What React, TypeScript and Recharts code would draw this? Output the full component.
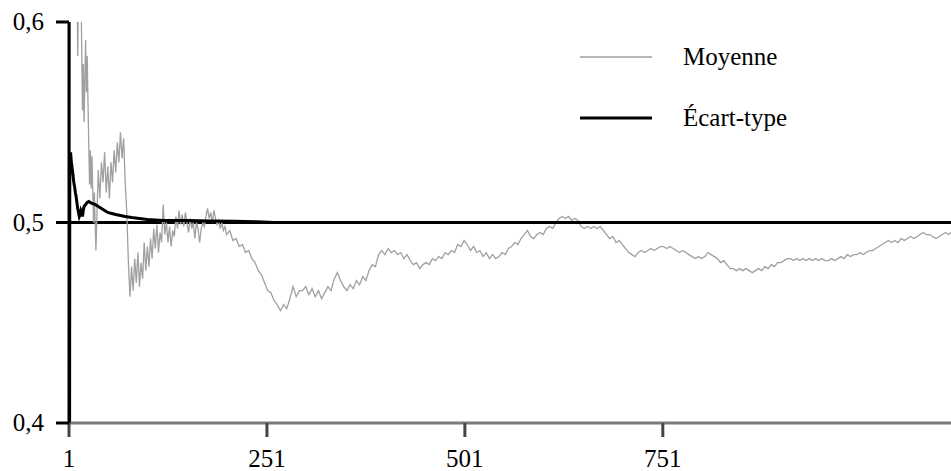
import React from "react";
import { LineChart, Line, XAxis, YAxis, ReferenceLine, Legend } from "recharts";

// Moyenne (gray running mean)
const moyenneX = [
  1, 2, 3, 4, 5, 6, 7, 8, 9, 10, 11, 12, 13, 14, 15, 16, 17, 18, 19, 20, 21, 22, 23, 24, 25, 26, 27, 28, 29, 30,
  31, 32, 33, 34, 35, 36, 38, 40, 42, 44, 46, 48, 50, 52, 54, 56, 58, 60, 62, 64, 66, 68, 70, 72, 74, 76, 78, 80,
  82, 84, 86, 88, 90, 92, 94, 96, 98, 100, 102, 104, 106, 108, 110, 112, 114, 116, 118, 120, 122, 124, 126, 128,
  130, 132, 134, 136, 138, 140, 142, 144, 146, 148, 150, 152, 154, 156, 158, 160, 162, 164, 166, 168, 170, 172,
  174, 176, 178, 180, 182, 184, 186, 188, 190, 192, 194, 196, 198, 200, 204, 208, 212, 216, 220, 224, 228, 232,
  236, 240, 244, 248, 252, 256, 260, 264, 268, 272, 276, 280, 284, 288, 292, 296, 300, 304, 308, 312, 316, 320,
  324, 328, 332, 336, 340, 344, 348, 352, 356, 360, 364, 368, 372, 376, 380, 384, 388, 392, 396, 400, 404, 408,
  412, 416, 420, 424, 428, 432, 436, 440, 444, 448, 452, 456, 460, 464, 468, 472, 476, 480, 484, 488, 492, 496,
  500, 504, 508, 512, 516, 520, 524, 528, 532, 536, 540, 544, 548, 552, 556, 560, 564, 568, 572, 576, 580, 584,
  588, 592, 596, 600, 604, 608, 612, 616, 620, 624, 628, 632, 636, 640, 644, 648, 652, 656, 660, 664, 668, 672,
  676, 680, 684, 688, 692, 696, 700, 704, 708, 712, 716, 720, 724, 728, 732, 736, 740, 744, 748, 752, 756, 760,
  764, 768, 772, 776, 780, 784, 788, 792, 796, 800, 804, 808, 812, 816, 820, 824, 828, 832, 836, 840, 844, 848,
  852, 856, 860, 864, 868, 872, 876, 880, 884, 888, 892, 896, 900, 904, 908, 912, 916, 920, 924, 928, 932, 936,
  940, 944, 948, 952, 956, 960, 964, 968, 972, 976, 980, 984, 988, 992, 996, 1000, 1004, 1008, 1012, 1016, 1020,
  1024, 1028, 1032, 1036, 1040, 1044, 1048, 1052, 1056, 1060, 1064, 1068, 1072, 1076, 1080, 1084, 1088, 1092,
  1096, 1100, 1104, 1108, 1112, 1115,
];
const moyenneY = [
  1.0, 0.5, 0.667, 0.75, 0.6, 0.667, 0.714, 0.625, 0.667, 0.6, 0.636, 0.583, 0.615, 0.643, 0.6, 0.625, 0.588,
  0.556, 0.579, 0.55, 0.571, 0.591, 0.565, 0.583, 0.56, 0.538, 0.519, 0.536, 0.517, 0.533, 0.516, 0.5, 0.515, 0.5,
  0.486, 0.5, 0.526, 0.512, 0.53, 0.52, 0.535, 0.515, 0.528, 0.512, 0.53, 0.52, 0.536, 0.525, 0.54, 0.53, 0.545,
  0.532, 0.542, 0.52, 0.505, 0.48, 0.463, 0.478, 0.466, 0.482, 0.47, 0.485, 0.468, 0.48, 0.472, 0.49, 0.476,
  0.488, 0.478, 0.492, 0.482, 0.497, 0.487, 0.499, 0.485, 0.495, 0.49, 0.509, 0.494, 0.5, 0.49, 0.498, 0.488,
  0.496, 0.493, 0.503, 0.497, 0.506, 0.499, 0.504, 0.498, 0.505, 0.5, 0.495, 0.502, 0.497, 0.5, 0.492, 0.5, 0.497,
  0.49, 0.497, 0.5, 0.498, 0.503, 0.507, 0.502, 0.505, 0.5, 0.506, 0.502, 0.499, 0.501, 0.497, 0.5, 0.496, 0.498,
  0.494, 0.496, 0.491, 0.492, 0.488, 0.489, 0.485, 0.486, 0.482, 0.48, 0.476, 0.474, 0.47, 0.466, 0.465, 0.461,
  0.459, 0.456, 0.459, 0.457, 0.462, 0.468, 0.463, 0.466, 0.466, 0.468, 0.464, 0.467, 0.463, 0.466, 0.462, 0.465,
  0.468, 0.466, 0.472, 0.475, 0.471, 0.468, 0.466, 0.469, 0.467, 0.471, 0.469, 0.473, 0.471, 0.476, 0.479, 0.478,
  0.484, 0.486, 0.484, 0.487, 0.485, 0.486, 0.484, 0.485, 0.482, 0.484, 0.481, 0.479, 0.48, 0.477, 0.479, 0.48,
  0.479, 0.482, 0.481, 0.483, 0.482, 0.485, 0.484, 0.486, 0.485, 0.489, 0.488, 0.491, 0.489, 0.486, 0.488, 0.485,
  0.486, 0.483, 0.485, 0.482, 0.484, 0.482, 0.483, 0.485, 0.484, 0.487, 0.488, 0.49, 0.489, 0.492, 0.494, 0.496,
  0.493, 0.492, 0.494, 0.495, 0.494, 0.497, 0.498, 0.497, 0.5, 0.502, 0.503, 0.502, 0.503, 0.501, 0.502, 0.501,
  0.498, 0.497, 0.498, 0.497, 0.498, 0.497, 0.498, 0.496, 0.494, 0.492, 0.493, 0.49, 0.491, 0.489, 0.487, 0.485,
  0.484, 0.483, 0.485, 0.486, 0.485, 0.486, 0.487, 0.486, 0.487, 0.488, 0.488, 0.487, 0.488, 0.487, 0.486, 0.485,
  0.486, 0.485, 0.484, 0.483, 0.482, 0.483, 0.482, 0.483, 0.485, 0.484, 0.483, 0.482, 0.48, 0.481, 0.479, 0.477,
  0.477, 0.476, 0.477, 0.476, 0.477, 0.476, 0.475, 0.476, 0.477, 0.476, 0.478, 0.477, 0.479, 0.478, 0.48, 0.48,
  0.481, 0.482, 0.482, 0.481, 0.482, 0.481, 0.482, 0.481, 0.482, 0.481, 0.482, 0.481, 0.482, 0.481, 0.481, 0.482,
  0.481, 0.482, 0.483, 0.482, 0.484, 0.483, 0.484, 0.484, 0.485, 0.484, 0.485, 0.486, 0.486, 0.487, 0.488, 0.489,
  0.49, 0.491, 0.49, 0.491, 0.49, 0.492, 0.491, 0.492, 0.493, 0.492, 0.493, 0.494, 0.495, 0.494, 0.494, 0.493,
  0.492, 0.493, 0.494, 0.495, 0.494, 0.495,
];

// Écart-type (black)
const ecartX = [
  1, 2, 3, 4, 5, 6, 7, 8, 9, 10, 11, 12, 13, 14, 15, 16, 17, 18, 19, 20, 22, 24, 26, 28, 30, 34, 38, 42, 46, 50,
  55, 60, 66, 72, 80, 90, 100, 120, 150, 180, 210, 238, 260, 1115,
];
const ecartY = [
  0.0, 0.53, 0.535, 0.53, 0.527, 0.524, 0.52, 0.518, 0.515, 0.513, 0.51, 0.507, 0.505, 0.503, 0.504, 0.506, 0.505,
  0.503, 0.506, 0.508, 0.509, 0.51, 0.5105, 0.51, 0.5095, 0.509, 0.508, 0.507, 0.506, 0.505, 0.5045, 0.504,
  0.5035, 0.503, 0.5025, 0.502, 0.5015, 0.501, 0.501, 0.5008, 0.5006, 0.5004, 0.5, 0.5,
];

const xTicks = [1, 251, 501, 751];
const yTicks = [0.4, 0.5, 0.6];
const seriesNames = ["Moyenne", "Écart-type"];

type Row = { x: number; moyenne?: number; ecart?: number };
const rowMap = new Map<number, Row>();
moyenneX.forEach((x, i) => {
  const r = rowMap.get(x) || { x };
  r.moyenne = moyenneY[i];
  rowMap.set(x, r);
});
ecartX.forEach((x, i) => {
  const r = rowMap.get(x) || { x };
  r.ecart = ecartY[i];
  rowMap.set(x, r);
});
const data: Row[] = Array.from(rowMap.values()).sort((a, b) => a.x - b.x);

const XTick = (props: any) => {
  const { x, payload } = props;
  return (
    <text x={x} y={467} textAnchor="middle" fontFamily="Liberation Serif" fontSize={25} fill="#000">
      {payload.value}
    </text>
  );
};

const YTick = (props: any) => {
  const { y, payload } = props;
  return (
    <text x={44} y={y + 8} textAnchor="end" fontFamily="Liberation Serif" fontSize={25} fill="#000">
      {String(payload.value.toFixed(1)).replace(".", ",")}
    </text>
  );
};

const LegendContent = (props: any) => {
  const payload = props.payload || [];
  const rows = [57, 118];
  return (
    <svg width={951} height={471} style={{ position: "absolute", left: 0, top: 0 }}>
      {payload.map((p: any, i: number) => (
        <g key={p.value}>
          <line
            x1={580}
            x2={652}
            y1={rows[i]}
            y2={rows[i]}
            stroke={p.color}
            strokeWidth={i === 0 ? 1.5 : 3}
          />
          <text x={683} y={rows[i] + 8} fontFamily="Liberation Serif" fontSize={25} fill="#000">
            {p.value}
          </text>
        </g>
      ))}
    </svg>
  );
};

export default function App() {
  return (
    <div style={{ position: "absolute", left: 0, top: 0, width: 951, height: 471, background: "#fff" }}>
      <LineChart width={951} height={471} data={data} margin={{ top: 22, right: 0, bottom: 0, left: 0 }}>
        <XAxis
          dataKey="x"
          type="number"
          domain={[1, 1115]}
          ticks={xTicks}
          allowDataOverflow
          height={48}
          axisLine={{ stroke: "#7a7a7a", strokeWidth: 3 }}
          tickLine={{ stroke: "#444", strokeWidth: 3 }}
          tickSize={14}
          tick={<XTick />}
        />
        <YAxis
          type="number"
          domain={[0.4, 0.6]}
          ticks={yTicks}
          allowDataOverflow
          width={69}
          axisLine={{ stroke: "#000", strokeWidth: 3 }}
          tickLine={{ stroke: "#000", strokeWidth: 3 }}
          tickSize={13}
          tick={<YTick />}
        />
        <ReferenceLine y={0.5} stroke="#000" strokeWidth={3} />
        <Line
          name={seriesNames[0]}
          dataKey="moyenne"
          stroke="#a0a0a0"
          strokeWidth={1.3}
          dot={false}
          connectNulls
          isAnimationActive={false}
        />
        <Line
          name={seriesNames[1]}
          dataKey="ecart"
          stroke="#000"
          strokeWidth={3}
          dot={false}
          connectNulls
          isAnimationActive={false}
        />
        <Legend
          layout="horizontal"
          verticalAlign="middle"
          align="center"
          content={<LegendContent />}
          wrapperStyle={{ position: "absolute", left: 0, top: 0, width: 951, height: 471, pointerEvents: "none" }}
        />
      </LineChart>
    </div>
  );
}
